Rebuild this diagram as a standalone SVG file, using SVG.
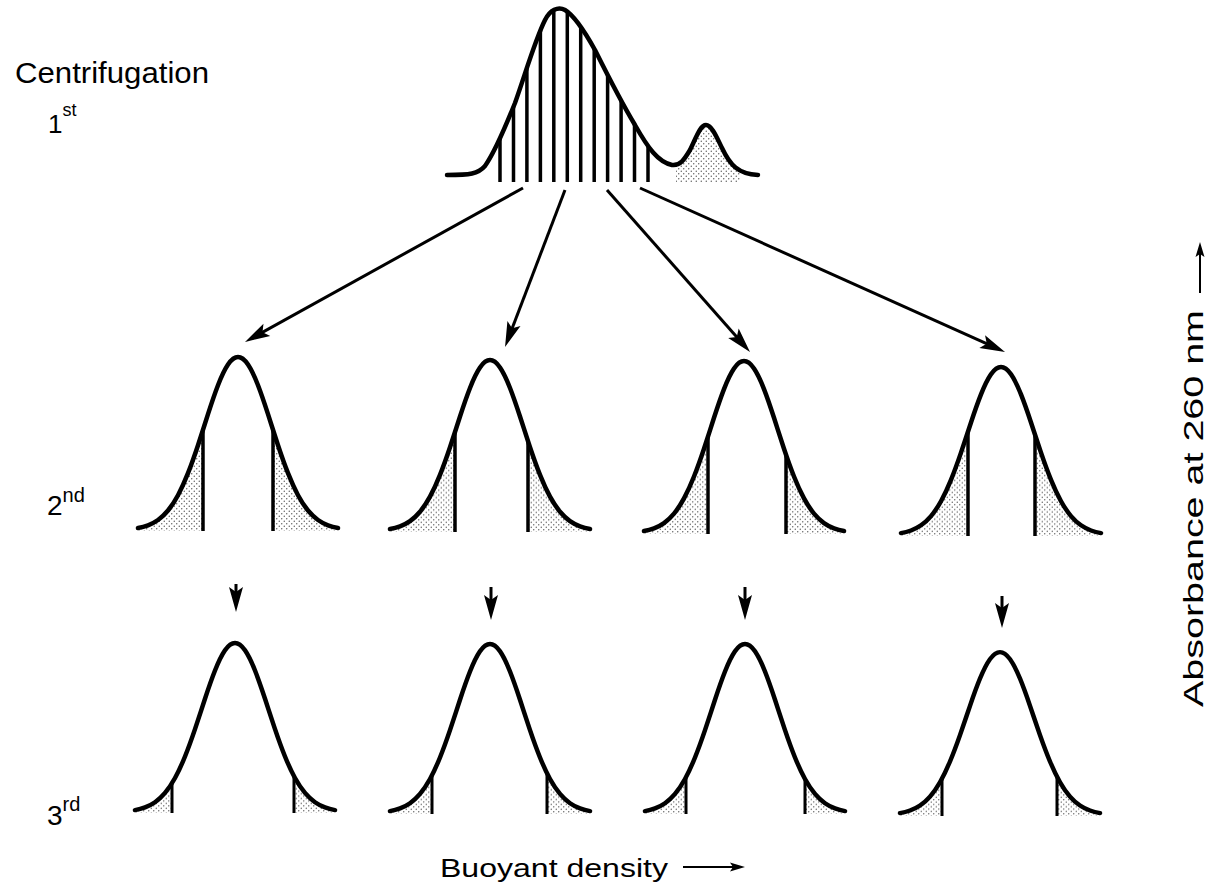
<svg xmlns="http://www.w3.org/2000/svg" xmlns:xlink="http://www.w3.org/1999/xlink" width="1214" height="893" viewBox="0 0 1214 893">
<style>
.lbl{font-family:"Liberation Sans",Arial,sans-serif;fill:#000}
.curve{fill:none;stroke:#000;stroke-width:4.5;stroke-linejoin:round;stroke-linecap:round}
.cut{stroke:#000;stroke-width:3.5}
.fine{stroke:#000;stroke-width:3}
.arr{stroke:#000;stroke-width:3;fill:none}
.dots{fill:url(#dots)}
</style>
<defs>
<pattern id="dots" patternUnits="userSpaceOnUse" width="5" height="5">
<circle cx="1.25" cy="1.25" r="0.7" fill="#555"/>
<circle cx="3.75" cy="3.75" r="0.7" fill="#555"/>
</pattern>
<path id="g" d="M-100,-2 C-96.67,-2.59 -93.33,-3.44 -90,-4.7 C-86.67,-5.96 -83.33,-7.62 -80,-10 C-76.67,-12.38 -73.33,-15.45 -70,-19.5 C-66.67,-23.55 -63.33,-28.6 -60,-34.8 C-56.67,-41 -53.33,-48.36 -50,-56.8 C-46.67,-65.24 -43.33,-74.73 -40,-84.8 C-36.67,-94.87 -33.33,-105.57 -30,-115.9 C-26.67,-126.23 -23.33,-136.2 -20,-144.8 C-16.67,-153.4 -13.33,-160.58 -10,-165.5 C-6.67,-170.42 -3.33,-173 0,-173 C3.33,-173 6.67,-170.42 10,-165.5 C13.33,-160.58 16.67,-153.4 20,-144.8 C23.33,-136.2 26.67,-126.23 30,-115.9 C33.33,-105.57 36.67,-94.87 40,-84.8 C43.33,-74.73 46.67,-65.24 50,-56.8 C53.33,-48.36 56.67,-41 60,-34.8 C63.33,-28.6 66.67,-23.55 70,-19.5 C73.33,-15.45 76.67,-12.38 80,-10 C83.33,-7.62 86.67,-5.96 90,-4.7 C93.33,-3.44 96.67,-2.59 100,-2"/>
<clipPath id="gc" clipPathUnits="userSpaceOnUse">
<path d="M-100,-2 C-96.67,-2.59 -93.33,-3.44 -90,-4.7 C-86.67,-5.96 -83.33,-7.62 -80,-10 C-76.67,-12.38 -73.33,-15.45 -70,-19.5 C-66.67,-23.55 -63.33,-28.6 -60,-34.8 C-56.67,-41 -53.33,-48.36 -50,-56.8 C-46.67,-65.24 -43.33,-74.73 -40,-84.8 C-36.67,-94.87 -33.33,-105.57 -30,-115.9 C-26.67,-126.23 -23.33,-136.2 -20,-144.8 C-16.67,-153.4 -13.33,-160.58 -10,-165.5 C-6.67,-170.42 -3.33,-173 0,-173 C3.33,-173 6.67,-170.42 10,-165.5 C13.33,-160.58 16.67,-153.4 20,-144.8 C23.33,-136.2 26.67,-126.23 30,-115.9 C33.33,-105.57 36.67,-94.87 40,-84.8 C43.33,-74.73 46.67,-65.24 50,-56.8 C53.33,-48.36 56.67,-41 60,-34.8 C63.33,-28.6 66.67,-23.55 70,-19.5 C73.33,-15.45 76.67,-12.38 80,-10 C83.33,-7.62 86.67,-5.96 90,-4.7 C93.33,-3.44 96.67,-2.59 100,-2 L100,1 L-100,1 Z"/>
</clipPath>
<path id="top" d="M447,175 C470,175 478,174 485,166 C495,152 505,128 515,103 C525,75 535,40 545,20 C550,10 558,6 565,10 C575,16 585,32 595,50 C607,74 620,100 635,125 C648,148 658,162 672,165 C680,166 684,160 690,150 C696,138 700,125 706,125 C712,125 717,138 722,148 C730,165 738,174 758,175"/>
<clipPath id="tc" clipPathUnits="userSpaceOnUse">
<path d="M447,175 C470,175 478,174 485,166 C495,152 505,128 515,103 C525,75 535,40 545,20 C550,10 558,6 565,10 C575,16 585,32 595,50 C607,74 620,100 635,125 C648,148 658,162 672,165 C680,166 684,160 690,150 C696,138 700,125 706,125 C712,125 717,138 722,148 C730,165 738,174 758,175 L758,182 L447,182 Z"/>
</clipPath>
<marker id="ah" markerUnits="userSpaceOnUse" orient="auto" viewBox="-18 -9 28 18" markerWidth="28" markerHeight="18" refX="0" refY="0">
<path d="M8,0 L-17,-7 L-12,0 L-17,7 Z" fill="#000"/>
</marker>
<marker id="sh" markerUnits="userSpaceOnUse" orient="auto" viewBox="-11 -5 17 10" markerWidth="17" markerHeight="10" refX="0" refY="0">
<path d="M5,0 L-10,-4.5 L-7,0 L-10,4.5 Z" fill="#000"/>
</marker>
</defs>
<rect width="1214" height="893" fill="#fff"/>

<g id="labels">
<text class="lbl" x="15" y="83" font-size="29" textLength="194" lengthAdjust="spacingAndGlyphs">Centrifugation</text>
<text class="lbl" x="48" y="133" font-size="26">1<tspan dy="-17" font-size="18">st</tspan></text>
<text class="lbl" x="47" y="515" font-size="28">2<tspan dy="-13" font-size="20">nd</tspan></text>
<text class="lbl" x="47" y="825" font-size="28">3<tspan dy="-14" font-size="20">rd</tspan></text>
<text class="lbl" x="440" y="877" font-size="26" textLength="228" lengthAdjust="spacingAndGlyphs">Buoyant density</text>
<text class="lbl" transform="translate(1203,707) rotate(-90)" x="0" y="0" font-size="28" textLength="397" lengthAdjust="spacingAndGlyphs">Absorbance at 260 nm</text>
</g>

<g id="n1">
<g clip-path="url(#tc)">
<rect class="dots" x="676" y="110" width="64" height="72"/>
<g class="cut">
<line x1="500" y1="0" x2="500" y2="182"/>
<line x1="513.5" y1="0" x2="513.5" y2="182"/>
<line x1="526.9" y1="0" x2="526.9" y2="182"/>
<line x1="540.4" y1="0" x2="540.4" y2="182"/>
<line x1="553.8" y1="0" x2="553.8" y2="182"/>
<line x1="567.3" y1="0" x2="567.3" y2="182"/>
<line x1="580.7" y1="0" x2="580.7" y2="182"/>
<line x1="594.2" y1="0" x2="594.2" y2="182"/>
<line x1="607.6" y1="0" x2="607.6" y2="182"/>
<line x1="621.1" y1="0" x2="621.1" y2="182"/>
<line x1="634.5" y1="0" x2="634.5" y2="182"/>
<line x1="648" y1="0" x2="648" y2="182"/>
</g>
</g>
<use href="#top" class="curve"/>
</g>

<g id="n2a" transform="translate(238,530)">
<g clip-path="url(#gc)">
<rect class="dots" x="-105" y="-180" width="70" height="182"/>
<rect class="dots" x="35" y="-180" width="70" height="182"/>
<line class="cut" x1="-35" y1="1" x2="-35" y2="-180"/>
<line class="cut" x1="35" y1="1" x2="35" y2="-180"/>
</g>
<use href="#g" class="curve"/>
</g>
<g id="n2b" transform="translate(490,531) scale(1,0.988)">
<g clip-path="url(#gc)">
<rect class="dots" x="-105" y="-180" width="70" height="182"/>
<rect class="dots" x="38" y="-180" width="70" height="182"/>
<line class="cut" x1="-35" y1="1" x2="-35" y2="-180"/>
<line class="cut" x1="38" y1="1" x2="38" y2="-180"/>
</g>
<use href="#g" class="curve"/>
</g>
<g id="n2c" transform="translate(744,533) scale(1,0.994)">
<g clip-path="url(#gc)">
<rect class="dots" x="-105" y="-180" width="69" height="182"/>
<rect class="dots" x="42" y="-180" width="70" height="182"/>
<line class="cut" x1="-36" y1="1" x2="-36" y2="-180"/>
<line class="cut" x1="42" y1="1" x2="42" y2="-180"/>
</g>
<use href="#g" class="curve"/>
</g>
<g id="n2d" transform="translate(1001,535) scale(1,0.971)">
<g clip-path="url(#gc)">
<rect class="dots" x="-105" y="-180" width="72" height="182"/>
<rect class="dots" x="34" y="-180" width="72" height="182"/>
<line class="cut" x1="-33" y1="1" x2="-33" y2="-180"/>
<line class="cut" x1="34" y1="1" x2="34" y2="-180"/>
</g>
<use href="#g" class="curve"/>
</g>

<g id="n3a" transform="translate(235,812) scale(1,0.977)">
<g clip-path="url(#gc)">
<rect class="dots" x="-105" y="-180" width="42" height="182"/>
<rect class="dots" x="59" y="-180" width="46" height="182"/>
<line class="fine" x1="-63" y1="1" x2="-63" y2="-180"/>
<line class="fine" x1="59" y1="1" x2="59" y2="-180"/>
</g>
<use href="#g" class="curve"/>
</g>
<g id="n3b" transform="translate(490,813) scale(1,0.977)">
<g clip-path="url(#gc)">
<rect class="dots" x="-105" y="-180" width="47" height="182"/>
<rect class="dots" x="57" y="-180" width="48" height="182"/>
<line class="fine" x1="-58" y1="1" x2="-58" y2="-180"/>
<line class="fine" x1="57" y1="1" x2="57" y2="-180"/>
</g>
<use href="#g" class="curve"/>
</g>
<g id="n3c" transform="translate(745,813) scale(1,0.977)">
<g clip-path="url(#gc)">
<rect class="dots" x="-105" y="-180" width="46" height="182"/>
<rect class="dots" x="60" y="-180" width="45" height="182"/>
<line class="fine" x1="-59" y1="1" x2="-59" y2="-180"/>
<line class="fine" x1="60" y1="1" x2="60" y2="-180"/>
</g>
<use href="#g" class="curve"/>
</g>
<g id="n3d" transform="translate(1000,815) scale(1,0.942)">
<g clip-path="url(#gc)">
<rect class="dots" x="-105" y="-180" width="47" height="182"/>
<rect class="dots" x="57" y="-180" width="48" height="182"/>
<line class="fine" x1="-58" y1="1" x2="-58" y2="-180"/>
<line class="fine" x1="57" y1="1" x2="57" y2="-180"/>
</g>
<use href="#g" class="curve"/>
</g>

<g id="connectors" class="arr">
<line x1="523" y1="188" x2="252" y2="338.1" marker-end="url(#ah)"/>
<line x1="565" y1="190" x2="507.9" y2="339.5" marker-end="url(#ah)"/>
<line x1="607" y1="190" x2="744.7" y2="346" marker-end="url(#ah)"/>
<line x1="640" y1="188" x2="997.7" y2="348.7" marker-end="url(#ah)"/>
<line x1="236" y1="584" x2="236" y2="604" marker-end="url(#ah)"/>
<line x1="491" y1="587" x2="491" y2="612" marker-end="url(#ah)"/>
<line x1="745" y1="587" x2="745" y2="612" marker-end="url(#ah)"/>
<line x1="1002" y1="596" x2="1002" y2="620" marker-end="url(#ah)"/>
<line x1="683" y1="867" x2="740" y2="867" stroke-width="2" marker-end="url(#sh)"/>
<line x1="1200" y1="293" x2="1200" y2="247" stroke-width="2" marker-end="url(#sh)"/>
</g>
</svg>
